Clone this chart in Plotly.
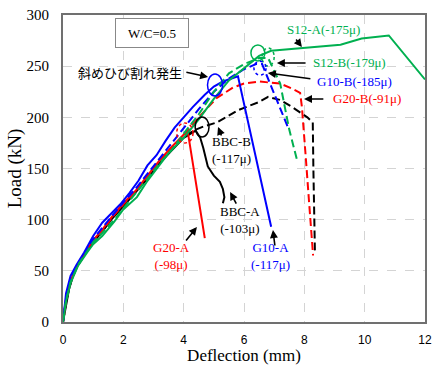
import plotly.graph_objects as go

# ---------------- data ----------------
g10a_x = [0, 0.1, 0.25, 0.45, 0.7, 1.0, 1.3, 1.6, 1.9, 2.2, 2.5, 2.8, 3.1, 3.4, 3.7, 4.0, 4.3, 4.7, 5.0, 5.3, 5.6, 5.8, 6.9]
g10a_y = [0, 28, 45, 56, 68, 84, 97, 106, 115, 126, 138, 153, 163, 177, 190, 200, 210, 222, 230, 235, 238, 240, 93]

g10b_x = [0, 0.1, 0.25, 0.45, 0.7, 1.0, 1.3, 1.6, 2.0, 2.4, 2.8, 3.2, 3.6, 4.0, 4.5, 5.0, 5.5, 6.0, 6.4, 6.6, 6.85, 7.2, 7.46]
g10b_y = [0, 24, 42, 54, 66, 81, 92, 103, 117, 130, 145, 160, 175, 190, 208, 225, 238, 247, 252, 252, 234, 207, 190]

s12a_x = [0, 0.1, 0.25, 0.5, 0.8, 1.0, 1.3, 1.7, 2.0, 2.45, 2.8, 3.1, 3.5, 4.0, 4.5, 5.0, 5.5, 6.0, 6.5, 6.9, 9.2, 9.9, 10.8, 12.0]
s12a_y = [0, 20, 38, 55, 68, 76, 84, 98, 110, 122, 138, 150, 165, 180, 198, 218, 236, 248, 260, 265, 271, 277, 280, 237]

s12b_x = [0, 0.1, 0.25, 0.5, 0.8, 1.0, 1.3, 1.7, 2.0, 2.4, 2.8, 3.2, 3.6, 4.0, 4.5, 5.0, 5.5, 6.0, 6.5, 6.8, 7.2, 7.5, 7.76]
s12b_y = [0, 21, 39, 56, 69, 78, 87, 100, 111, 125, 140, 155, 168, 184, 203, 225, 243, 252, 258, 258, 233, 188, 158]

g20a_x = [0, 0.1, 0.25, 0.45, 0.7, 1.0, 1.3, 1.6, 2.0, 2.4, 2.8, 3.2, 3.6, 4.0, 4.13, 4.7]
g20a_y = [0, 22, 40, 54, 66, 80, 90, 102, 116, 128, 143, 158, 171, 183, 187, 82]

g20b_x = [0, 0.1, 0.25, 0.45, 0.7, 1.0, 1.3, 1.6, 2.0, 2.4, 2.8, 3.2, 3.6, 4.0, 4.5, 5.1, 5.63, 6.0, 6.5, 7.2, 7.6, 7.86, 7.92, 7.98, 8.05, 8.15, 8.29]
g20b_y = [0, 21, 39, 53, 65, 79, 89, 101, 115, 127, 142, 157, 170, 182, 200, 219, 229, 233, 235, 233, 228, 224, 210, 190, 160, 120, 65]

bbca_x = [0, 0.1, 0.2, 0.35, 0.5, 0.8, 1.0, 1.3, 1.6, 2.0, 2.4, 2.8, 3.2, 3.6, 4.0, 4.4, 4.55, 4.65, 4.8, 5.0, 5.2, 5.3, 5.35, 5.3]
bbca_y = [0, 18, 32, 47, 56, 70, 78, 88, 100, 113, 126, 140, 155, 168, 180, 187, 180, 170, 152, 143, 137, 130, 122, 116]

bbcb_x = [0, 0.1, 0.2, 0.35, 0.5, 0.8, 1.0, 1.3, 1.6, 2.0, 2.4, 2.8, 3.2, 3.6, 4.0, 4.4, 4.65, 5.1, 5.8, 6.5, 6.8, 7.2, 7.6, 8.1, 8.28, 8.3, 8.35]
bbcb_y = [0, 19, 33, 48, 57, 71, 79, 89, 101, 114, 127, 141, 156, 169, 181, 188, 191, 195, 207, 215, 220, 217, 210, 200, 195, 150, 70]

x_ticks = [0, 2, 4, 6, 8, 10, 12]
y_ticks = [0, 50, 100, 150, 200, 250, 300]

GREEN = "#00b050"
RED = "#ff0000"
BLUE = "#0000ff"
BLACK = "#000000"
DASH = "8px,4px"

series = [
    ("BBC-A", bbca_x, bbca_y, BLACK, "solid"),
    ("BBC-B", bbcb_x, bbcb_y, BLACK, DASH),
    ("G20-A", g20a_x, g20a_y, RED, "solid"),
    ("G20-B", g20b_x, g20b_y, RED, DASH),
    ("G10-A", g10a_x, g10a_y, BLUE, "solid"),
    ("G10-B", g10b_x, g10b_y, BLUE, DASH),
    ("S12-A", s12a_x, s12a_y, GREEN, "solid"),
    ("S12-B", s12b_x, s12b_y, GREEN, DASH),
]

fig = go.Figure()
for name, xs, ys, col, dash in series:
    fig.add_trace(go.Scatter(x=xs, y=ys, mode="lines", name=name,
                             line=dict(color=col, width=2, dash=dash)))

# ellipses (center x, center y, rx, ry, colour, dash)
ellipses = [
    (5.04, 231.6, 0.25, 10.7, BLUE, "solid"),
    (4.04, 184.7, 0.27, 9.8, RED, "dot"),
    (4.61, 190.6, 0.23, 9.8, BLACK, "solid"),
    (6.46, 262.9, 0.23, 7.8, GREEN, "solid"),
    (6.80, 259.0, 0.20, 8.8, GREEN, "dot"),
    (6.53, 248.0, 0.20, 6.8, BLUE, "dot"),
]
for cx, cy, rx, ry, col, dash in ellipses:
    fig.add_shape(type="circle", xref="x", yref="y", x0=cx - rx, x1=cx + rx,
                  y0=cy - ry, y1=cy + ry, line=dict(color=col, width=1.5, dash=dash))

SERIF = "Liberation Serif"
texts = [
    ("S12-A(-175μ)", 8.65, 285.4, GREEN),
    ("S12-B(-179μ)", 9.51, 254.0, GREEN),
    ("G10-B(-185μ)", 9.65, 235.5, BLUE),
    ("G20-B(-91μ)", 10.08, 218.0, RED),
    ("BBC-B<br>(-117μ)", 5.60, 168.1, BLACK),
    ("BBC-A<br>(-103μ)", 5.87, 99.7, BLACK),
    ("G20-A<br>(-98μ)", 3.58, 64.5, RED),
    ("G10-A<br>(-117μ)", 6.89, 64.5, BLUE),
]
for t, x, y, col in texts:
    fig.add_annotation(x=x, y=y, xref="x", yref="y", text=t, showarrow=False,
                       font=dict(family=SERIF, size=13, color=col), align="center")

fig.add_annotation(x=2.22, y=244.3, xref="x", yref="y", text="斜めひび割れ発生",
                   showarrow=False, font=dict(family="Noto Sans CJK JP", size=13, color="black"))

fig.add_annotation(x=2.95, y=282.4, xref="x", yref="y", text="W/C=0.5", showarrow=False,
                   font=dict(family=SERIF, size=13, color="black"),
                   bordercolor="#888888", borderwidth=1, borderpad=0, width=72, height=28,
                   bgcolor="white")

arrows = [
    (4.04, 244.3, 4.81, 239.4),
    (7.69, 277.5, 7.92, 268.7),
    (8.09, 253.1, 7.09, 253.1),
    (8.25, 237.5, 6.79, 243.3),
    (8.68, 217.9, 7.99, 217.9),
    (5.27, 180.8, 5.14, 190.6),
    (5.77, 114.3, 5.54, 127.0),
    (4.04, 78.2, 4.44, 92.8),
    (7.03, 73.3, 6.96, 89.9),
]
for tx, ty, hx, hy in arrows:
    fig.add_annotation(x=hx, y=hy, ax=tx, ay=ty, xref="x", yref="y", axref="x", ayref="y",
                       text="", showarrow=True, arrowhead=2, arrowsize=1, arrowwidth=1.6,
                       arrowcolor="black")

fig.update_layout(
    width=433, height=365,
    margin=dict(l=63, r=8, t=15, b=43, autoexpand=False),
    plot_bgcolor="white", paper_bgcolor="white",
    showlegend=False,
)
fig.update_xaxes(range=[0, 12], tickvals=x_ticks, showgrid=True, gridcolor="#d4d4d4",
                 griddash="dash", gridwidth=1, showline=True, linecolor="#707070", linewidth=2,
                 mirror=True, zeroline=False, ticks="", automargin=False, ticklabelstandoff=6,
                 tickfont=dict(family="Liberation Sans", size=12, color="black"),
                 title=dict(text="Deflection (mm)", font=dict(family=SERIF, size=17, color="black"),
                            standoff=6))
fig.update_yaxes(range=[0, 300], tickvals=y_ticks, showgrid=True, gridcolor="#d4d4d4",
                 griddash="dash", gridwidth=1, showline=True, linecolor="#707070", linewidth=2,
                 mirror=True, zeroline=False, ticks="", automargin=False, ticklabelstandoff=9,
                 tickfont=dict(family=SERIF, size=15, color="black"),
                 title=dict(text="Load (kN)", font=dict(family=SERIF, size=19, color="black"),
                            standoff=0))

fig.write_html("out.html", config={"displayModeBar": False},
               post_script="document.body.style.margin='0';document.body.style.overflow='hidden';")
